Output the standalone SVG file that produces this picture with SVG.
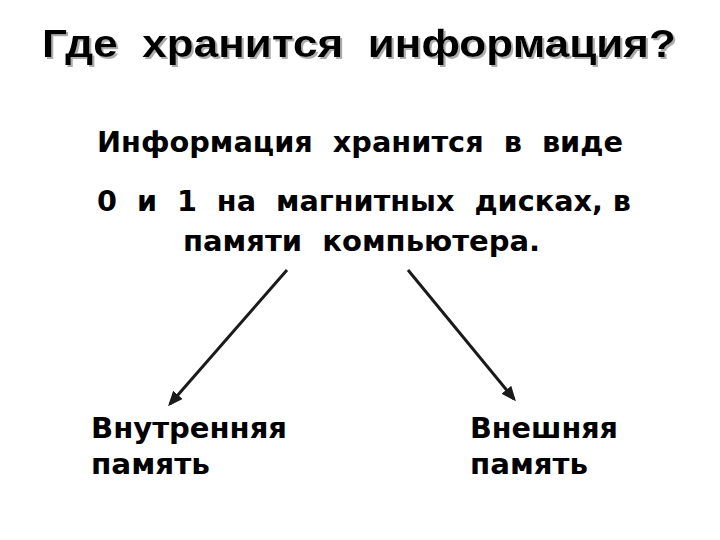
<svg xmlns="http://www.w3.org/2000/svg" width="720" height="540" viewBox="0 0 720 540">
<defs>
<style>
.title{font-family:"Liberation Sans",Arial,sans-serif;font-weight:bold;font-size:38px;fill:#000}
.body{font-family:"DejaVu Sans",Verdana,sans-serif;font-weight:bold;font-size:28px;fill:#000}
.conn{stroke:#1a1a1a;stroke-width:3;fill:none;marker-end:url(#ah)}
</style>
<filter id="sh" x="-5%" y="-20%" width="110%" height="150%">
<feDropShadow dx="2" dy="2" stdDeviation="0.6" flood-color="#999" flood-opacity="0.8"/>
</filter>
<marker id="ah" markerWidth="5" markerHeight="5" refX="4" refY="2.5" orient="auto" markerUnits="strokeWidth">
<path d="M0,0.4 L5,2.5 L0,4.6 Z" fill="#1a1a1a"/>
</marker>
</defs>
<rect width="720" height="540" fill="#fff"/>
<g id="title">
<text class="title" x="42" y="57" filter="url(#sh)" textLength="634" lengthAdjust="spacingAndGlyphs" xml:space="preserve">Где  хранится  информация?</text>
</g>
<g id="main">
<text class="body" x="97" y="152" textLength="526" lengthAdjust="spacingAndGlyphs" xml:space="preserve">Информация  хранится  в  виде</text>
<text class="body" x="97" y="211" textLength="534" lengthAdjust="spacingAndGlyphs" xml:space="preserve">0  и  1  на  магнитных  дисках, в</text>
<text class="body" x="183" y="251" textLength="357" lengthAdjust="spacingAndGlyphs" xml:space="preserve">памяти  компьютера.</text>
</g>
<g id="internal">
<text class="body" x="91" y="438" textLength="196" lengthAdjust="spacingAndGlyphs">Внутренняя</text>
<text class="body" x="91" y="474" textLength="119" lengthAdjust="spacingAndGlyphs">память</text>
</g>
<g id="external">
<text class="body" x="470" y="438" textLength="148" lengthAdjust="spacingAndGlyphs">Внешняя</text>
<text class="body" x="470" y="474" textLength="118" lengthAdjust="spacingAndGlyphs">память</text>
</g>
<g id="connectors">
<line class="conn" x1="287" y1="270" x2="170" y2="404"/>
<line class="conn" x1="408" y1="270" x2="514" y2="399"/>
</g>
</svg>
